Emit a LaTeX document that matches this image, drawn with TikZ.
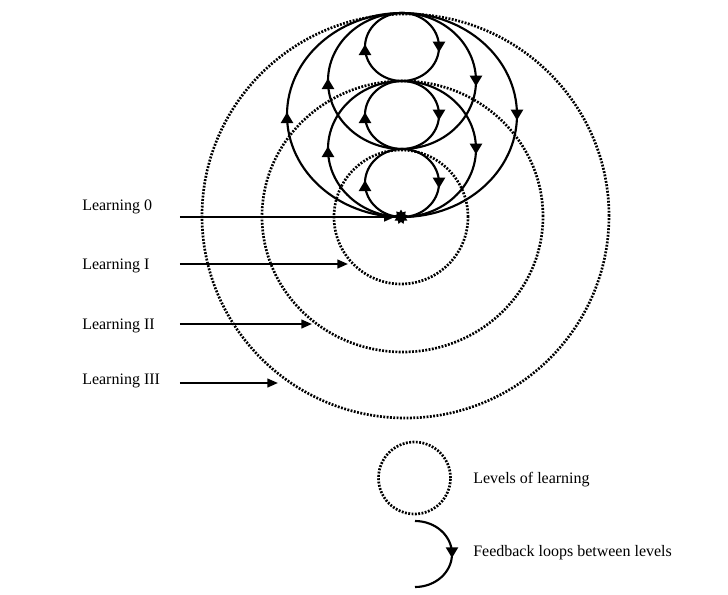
\documentclass[tikz,border=0pt]{standalone}
\usepackage{fontspec}
\setmainfont{Liberation Serif}
\usetikzlibrary{arrows.meta,decorations.markings,shapes.geometric}

\tikzset{
  lvl/.style={line width=2pt, dash pattern=on 1.4pt off 1.1pt},
  fbloop/.style={line width=1.6pt, postaction={decorate}, decoration={markings,
      mark=at position 0.25 with {\arrow[xshift=4pt]{Triangle[length=8pt,width=9pt]}},
      mark=at position 0.75 with {\arrow[xshift=2pt]{Triangle[length=8pt,width=9pt]}}}},
  fbarc/.style={line width=1.6pt, postaction={decorate}, decoration={markings,
      mark=at position 0.5 with {\arrow[xshift=3pt]{Triangle[length=8pt,width=9pt]}}}},
  feed/.style={line width=1.6pt, -{Triangle[length=8pt,width=6.5pt]}},
  lab/.style={font=\fontsize{12}{14}\selectfont, inner sep=0pt, anchor=west},
  hub/.style={star, star points=9, star point ratio=1.5, fill=black, inner sep=0pt, minimum size=11pt}
}

\begin{document}
\begin{tikzpicture}[x=0.75pt,y=0.75pt]
   \useasboundingbox (-401,-377) rectangle (327,217);

   % levels of learning
   \draw[lvl] (0,0) circle (67);
   \draw[lvl] (1.5,0.5) ellipse [x radius=140.5, y radius=135.5];
   \draw[lvl] (4.5,1) ellipse [x radius=203.5, y radius=202];

   % feedback loops, all running clockwise
   \draw[fbloop] (1,204) arc[start angle=90, end angle=-270, x radius=37, y radius=34];
   \draw[fbloop] (1,136) arc[start angle=90, end angle=-270, x radius=37, y radius=34];
   \draw[fbloop] (1,68) arc[start angle=90, end angle=-270, x radius=37, y radius=34];
   \draw[fbloop] (1,204) arc[start angle=90, end angle=-270, x radius=74, y radius=68];
   \draw[fbloop] (1,136) arc[start angle=90, end angle=-270, x radius=74, y radius=68];
   \draw[fbloop] (1,204) arc[start angle=90, end angle=-270, x radius=115, y radius=102];

   \node[hub] (hub) at (0,0) {};

   % labels
   \node[lab] (l0) at (-319,10) {Learning 0};
   \node[lab] (l1) at (-319,-49) {Learning I};
   \node[lab] (l2) at (-319,-109) {Learning II};
   \node[lab] (l3) at (-319,-164) {Learning III};

   \coordinate (t0) at (-221,0);
   \coordinate (t1) at (-221,-47);
   \coordinate (t2) at (-221,-107);
   \coordinate (t3) at (-221,-166);
   \coordinate (e1) at (-53,-47);
   \coordinate (e2) at (-89,-107);
   \coordinate (e3) at (-123,-166);

   \draw[feed] (t0) -- (hub);
   \draw[feed] (t1) -- (e1);
   \draw[feed] (t2) -- (e2);
   \draw[feed] (t3) -- (e3);

   % legend
   \draw[lvl] (13.5,-261) circle (36);
   \node[lab] (k1) at (72,-263) {Levels of learning};
   \coordinate (ktop) at (14,-304);
   \draw[fbarc] (ktop) arc[start angle=90, end angle=-90, x radius=37, y radius=33];
   \node[lab] (k2) at (72,-336) {Feedback loops between levels};
\end{tikzpicture}
\end{document}
